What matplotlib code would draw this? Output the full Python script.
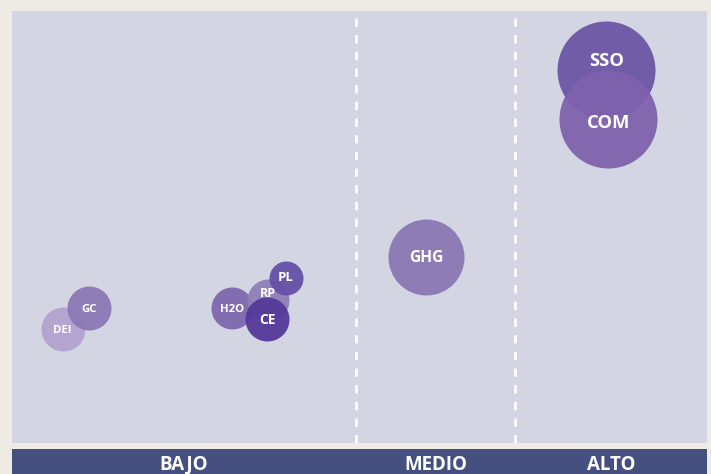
import matplotlib
matplotlib.use('Agg')
import matplotlib.pyplot as plt

plt.rcParams['font.family'] = ['Open Sans', 'DejaVu Sans']

# burbujas: etiqueta, posición (0-100), radio en px, color
labels = ['DEI', 'GC', 'H2O', 'RP', 'CE', 'PL', 'GHG', 'SSO', 'COM']
x_vals = [7.3, 11.1, 31.7, 36.8, 36.7, 39.4, 59.6, 85.5, 85.8]
y_vals = [26.4, 31.3, 31.3, 33.1, 28.7, 38.2, 43.1, 86.3, 75.0]
radius = [22, 22, 21, 21, 22, 17, 38, 49, 49]
colors = ['#b3a3cf', '#8c78b6', '#7d67ae', '#8f80b8', '#55399a',
          '#6650a6', '#8b77b5', '#6b55a4', '#7f62ae']
font_sizes = [8.2, 8.2, 8.2, 9, 10, 9.5, 11.2, 13.2, 13.2]
# desplazamiento vertical de la etiqueta (unidades del eje)
label_dy = [-0.3, -0.5, -0.3, 1.4, -0.3, 0, -0.2, 2.1, -1.0]

dividers = [49.5, 72.4]
bands = ['BAJO', 'MEDIO', 'ALTO']

W, H, DPI = 711, 474, 100
fig = plt.figure(figsize=(W / DPI, H / DPI), dpi=DPI, facecolor='#eeebe4')

ax = fig.add_axes([12 / W, 31 / H, 695 / W, 432 / H])
ax.set_facecolor('#d3d6e2')
ax.set_xlim(0, 100)
ax.set_ylim(0, 100)
for s in ax.spines.values():
    s.set_visible(False)
ax.set_xticks([])
ax.set_yticks([])

for d in dividers:
    ax.axvline(d, color='white', linewidth=2, linestyle=(0, (3, 3)), zorder=1)

for lab, x, y, r, c, fs, dy in zip(labels, x_vals, y_vals, radius, colors, font_sizes, label_dy):
    diam_pt = 2 * r * 72 / DPI
    ax.scatter(x, y, s=diam_pt ** 2, color=c, alpha=0.95, linewidths=0, zorder=2)
    ax.text(x, y + dy, lab, color='white', fontsize=fs, fontweight='bold',
            ha='center', va='center', zorder=3)

# banda inferior
band = fig.add_axes([12 / W, 0, 695 / W, 25 / H])
band.set_facecolor('#454f80')
band.set_xlim(0, 100)
band.set_ylim(0, 1)
for s in band.spines.values():
    s.set_visible(False)
band.set_xticks([])
band.set_yticks([])
edges = [0] + dividers + [100]
for i, b in enumerate(bands):
    band.text((edges[i] + edges[i + 1]) / 2, 0.38, b, color='white', fontsize=13.5,
              fontweight='bold', ha='center', va='center')

fig.savefig('out.png', dpi=DPI, facecolor=fig.get_facecolor())
